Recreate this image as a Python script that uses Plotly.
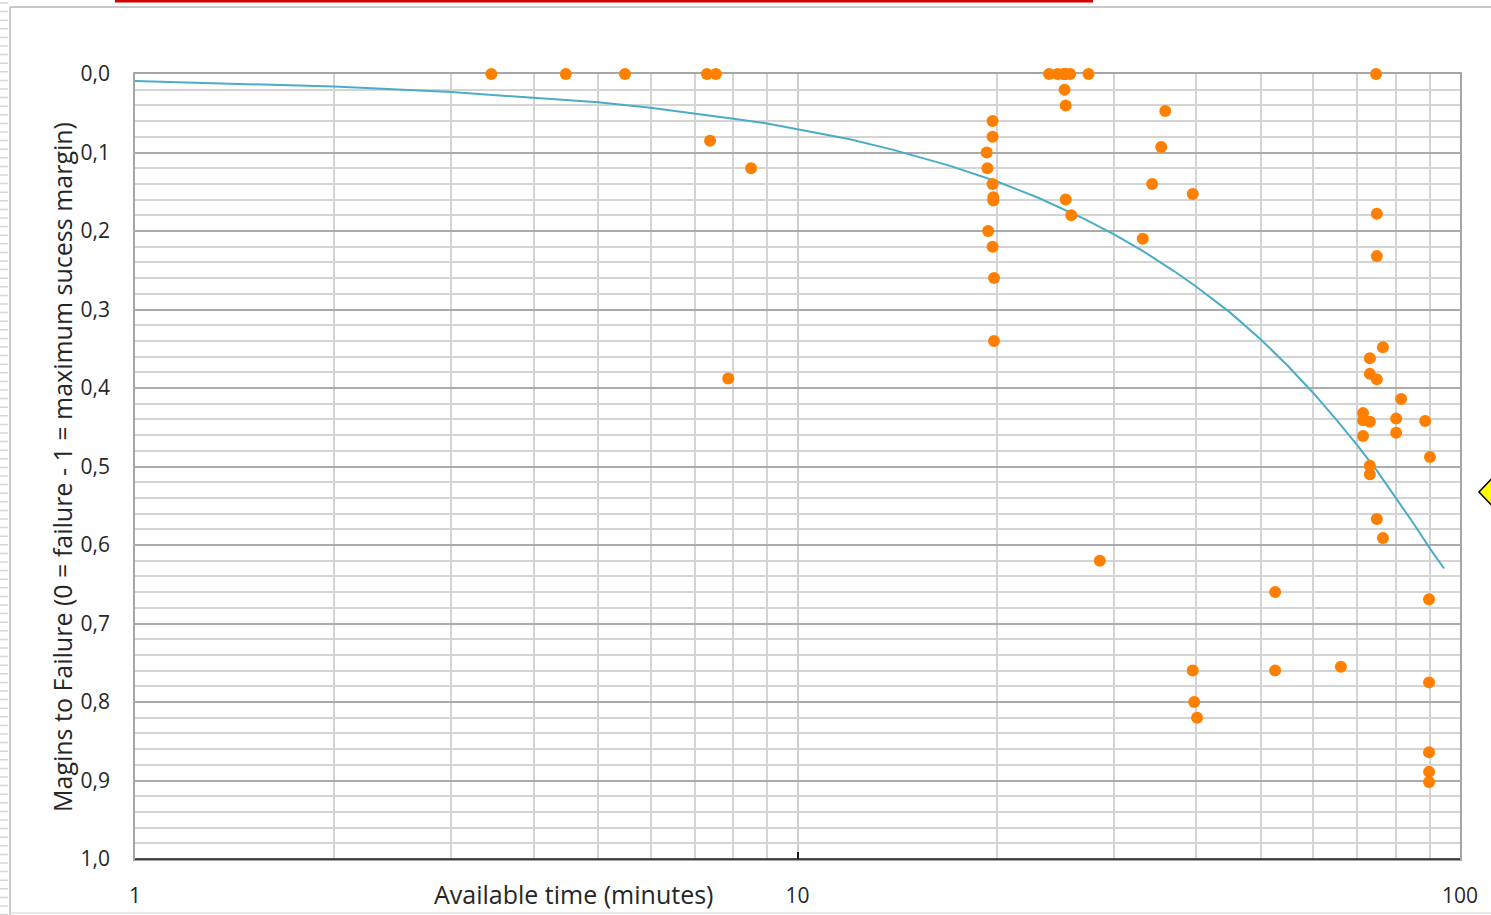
import plotly.graph_objects as go

# ---------------- data ----------------
time_min = [
    3.45, 4.47, 5.49, 7.30, 7.53, 23.97, 24.7, 25.2, 25.3, 25.4, 25.8, 27.5, 74.7,
    7.38, 8.51, 7.86,
    19.7, 19.7, 19.3, 19.35, 19.7, 19.75, 19.75, 19.4, 19.7, 19.8, 19.8,
    25.3, 25.4, 25.4, 25.9,
    35.9, 35.4, 34.3, 39.5, 33.2,
    28.6, 52.6, 39.5, 52.6, 66.1, 39.7, 40.1,
    74.9, 74.9,
    76.5, 73.1, 73.1, 74.9, 81.5, 71.4, 71.4, 73.1, 80.1, 88.6, 71.4, 80.1, 90.1,
    73.1, 73.1, 74.9, 76.5,
    89.8, 89.8, 89.8, 89.8, 89.8,
]
margin_to_failure = [
    0.0, 0.0, 0.0, 0.0, 0.0, 0.0, 0.0, 0.0, 0.0, 0.0, 0.0, 0.0, 0.0,
    0.085, 0.12, 0.388,
    0.06, 0.08, 0.10, 0.12, 0.14, 0.157, 0.161, 0.20, 0.22, 0.26, 0.34,
    0.02, 0.04, 0.16, 0.18,
    0.047, 0.093, 0.14, 0.153, 0.21,
    0.62, 0.66, 0.76, 0.76, 0.755, 0.80, 0.82,
    0.178, 0.232,
    0.348, 0.362, 0.382, 0.389, 0.414, 0.432, 0.441, 0.443, 0.439, 0.442, 0.461, 0.457, 0.488,
    0.499, 0.51, 0.567, 0.591,
    0.669, 0.775, 0.864, 0.889, 0.902,
]

# trend line
trend_x = [1, 2, 3, 4, 5, 6, 7, 8, 9, 10, 12, 14, 17, 20, 23, 27, 30, 33, 37, 40,
           45, 50, 55, 60, 65, 70, 75, 80, 85, 90, 94.6]
trend_y = [0.009, 0.016, 0.023, 0.030, 0.036, 0.043, 0.050, 0.057, 0.063, 0.070,
           0.083, 0.097, 0.117, 0.137, 0.157, 0.184, 0.204, 0.224, 0.251, 0.271,
           0.304, 0.338, 0.372, 0.406, 0.440, 0.473, 0.506, 0.540, 0.572, 0.604, 0.630]

y_ticks = [0.0, 0.1, 0.2, 0.3, 0.4, 0.5, 0.6, 0.7, 0.8, 0.9, 1.0]
x_ticks = [1, 10, 100]
x_minor = [2, 3, 4, 5, 6, 7, 8, 9, 20, 30, 40, 50, 60, 70, 80, 90]

x_title = "Available time (minutes)"
y_title = "Magins to Failure (0 = failure - 1 = maximum sucess margin)"

# ---------------- figure ----------------
W = 1491
S = 921 / 915          # vertical compensation for the capture
H = 921
L, R = 135, 31
T = 74 * S
B = H - 859 * S
PW, PH = W - L - R, H - T - B


def px(x):
    return (x - L) / PW


def py(y):
    return (H - B - y * S) / PH


FONT = "Open Sans"
TXT = "#262626"

fig = go.Figure()

fig.add_trace(go.Scatter(
    x=trend_x, y=trend_y, mode="lines",
    line=dict(color="#4BACC6", width=2),
    hoverinfo="skip", showlegend=False,
))
fig.add_trace(go.Scatter(
    x=time_min, y=margin_to_failure, mode="markers",
    marker=dict(color="#FF8000", size=12, line=dict(width=0)),
    cliponaxis=False, showlegend=False,
))

shapes = []
# bottom axis line (dark)
shapes.append(dict(type="line", xref="paper", yref="paper", x0=0, x1=1, y0=0, y1=0,
                   line=dict(color="#1a1a1a", width=1.5)))
# red line at the top
shapes.append(dict(type="line", xref="paper", yref="paper", x0=px(115), x1=px(1093),
                   y0=py(1), y1=py(1), line=dict(color="#D00000", width=3)))
# outer frame lines
shapes.append(dict(type="line", xref="paper", yref="paper", x0=px(10), x1=px(W),
                   y0=py(7), y1=py(7), line=dict(color="#C8C8C8", width=2)))
shapes.append(dict(type="line", xref="paper", yref="paper", x0=px(10), x1=px(10),
                   y0=py(7), y1=py(915), line=dict(color="#C8C8C8", width=2)))
shapes.append(dict(type="line", xref="paper", yref="paper", x0=px(10), x1=px(W),
                   y0=py(913), y1=py(913), line=dict(color="#E0E0E0", width=1.5)))
# striped margin on the left
path = ""
yy = 3.0
while yy < 915:
    path += f"M{px(0)},{py(yy)} L{px(8)},{py(yy)} "
    yy += 8.6
shapes.append(dict(type="path", xref="paper", yref="paper", path=path,
                   line=dict(color="#D8D8D8", width=1.5)))
# yellow diamond at the right edge
diamond = (f"M{px(1479)},{py(492)} L{px(1497)},{py(473)} "
           f"L{px(1515)},{py(492)} L{px(1497)},{py(511)} Z")
shapes.append(dict(type="path", xref="paper", yref="paper", path=diamond,
                   fillcolor="#FFFF00", line=dict(color="#000000", width=1.5)))

annotations = [
    dict(text=x_title, xref="paper", yref="paper", x=px(573), y=py(894),
         xanchor="center", yanchor="middle", showarrow=False,
         font=dict(family=FONT, size=25, color=TXT)),
    dict(text=y_title, xref="paper", yref="paper", x=px(62), y=py(467),
         xanchor="center", yanchor="middle", showarrow=False, textangle=-90,
         font=dict(family=FONT, size=25, color=TXT)),
]

fig.update_layout(
    width=W, height=H,
    margin=dict(l=L, r=R, t=T, b=B, pad=0),
    paper_bgcolor="white", plot_bgcolor="white",
    separators=", ",
    font=dict(family=FONT, size=22, color=TXT),
    shapes=shapes, annotations=annotations,
    showlegend=False,
)

fig.update_xaxes(
    type="log", range=[0, 2],
    tickmode="array", tickvals=x_ticks, ticktext=[str(v) for v in x_ticks],
    ticks="inside", ticklen=7, tickcolor="#1a1a1a", tickwidth=1.5,
    ticklabelstandoff=17,
    tickfont=dict(family=FONT, size=21, color=TXT),
    showgrid=True, gridcolor="#CFCFCF", gridwidth=1.5,
    minor=dict(tickmode="array", tickvals=x_minor, showgrid=True,
               gridcolor="#D4D4D4", gridwidth=1.5, ticks=""),
    showline=True, linecolor="#A6A6A6", linewidth=1.5, mirror=True,
    layer="below traces", zeroline=False,
)
fig.update_yaxes(
    range=[1.0, 0.0],
    tickmode="array", tickvals=y_ticks, tickformat=".1f",
    ticks="", ticklabelstandoff=19,
    tickfont=dict(family=FONT, size=21, color=TXT),
    showgrid=True, gridcolor="#ABABAB", gridwidth=1.5,
    minor=dict(dtick=0.02, tick0=0, showgrid=True, gridcolor="#D4D4D4", gridwidth=1.5),
    showline=True, linecolor="#A6A6A6", linewidth=1.5, mirror=True,
    layer="below traces", zeroline=False,
)

fig.write_html(
    "out.html", config={"displayModeBar": False},
    post_script=("document.body.style.margin='0px';"
                 "document.body.style.overflow='hidden';"
                 "document.documentElement.style.overflow='hidden';"),
)
